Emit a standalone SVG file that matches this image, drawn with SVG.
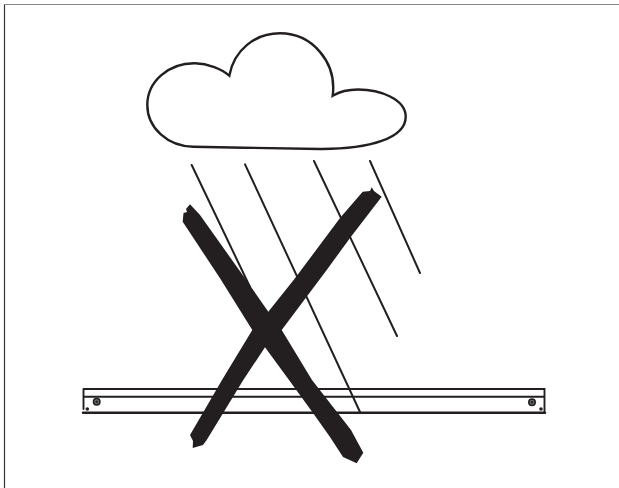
<svg xmlns="http://www.w3.org/2000/svg" width="619" height="488" viewBox="0 0 619 488">
<style>
.l{fill:none;stroke:#231f20;stroke-linecap:round}
.b{fill:#231f20;stroke:none}
</style>
<rect width="619" height="488" fill="#fff"/>
<g id="frame"><path d="M4.5 488V4.5" fill="none" stroke="#333" stroke-width="1.2"/><path d="M4 4.5H619" fill="none" stroke="#888" stroke-width="1"/></g>
<g id="cloud"><path class="l" stroke-width="2.4" d="M229.3 75.7C222 69 208 63.5 195 63.3C168 63 147.3 82 147.3 105C147.3 128 168 146.5 193.3 146.7C235 147.5 280 148.5 320 149C370 149.3 405.7 138 405.7 116.7C405.7 99 380 89.5 358 89.5C348 89.5 339 92 332.7 95.7C337 62 312 33.3 280 33.3C255 33.3 234 50 229.3 75.7Z"/></g>
<g id="rain">
<path class="l" stroke-width="2" d="M191.7 165L250 287"/>
<path class="l" stroke-width="2" d="M245 164.3L360 412"/>
<path class="l" stroke-width="2" d="M314 161L397 336"/>
<path class="l" stroke-width="2" d="M370 161L420 273"/>
</g>
<g id="rail">
<path class="l" stroke-width="1.9" stroke-linecap="butt" d="M83.5 389H544.5V412M83.5 409V389M83.5 396.7H544.5"/>
<path class="l" stroke-width="2.4" stroke-linecap="butt" d="M83 412.7H545"/>
<circle cx="96.7" cy="401.7" r="3.2" fill="#777" stroke="#231f20" stroke-width="1.6"/><circle cx="96.7" cy="401.7" r="1.3" class="b"/>
<circle cx="532" cy="402.3" r="3.2" fill="#777" stroke="#231f20" stroke-width="1.6"/><circle cx="532" cy="402.3" r="1.3" class="b"/>
<circle cx="87.3" cy="409" r="1.8" class="b"/><circle cx="541" cy="409" r="1.8" class="b"/>
</g>
<g id="cross">
<path class="b" d="M190 204.3L186 209L187 212L183.5 213L182.7 221.7L220 278.3L252.3 330L265 347.3L289 380L313 413L330 437L343 457L356.7 463.3L363.3 452.7L351 430L312 380L281.7 330L268.3 311.7L245 278.3L200 215Z"/>
<path class="b" d="M371.7 187.3L370 191L362.7 191.7L340 218L295 278.3L268.3 311.7L252.3 330L222 380L190 435L193 441L192.7 448L203 445L206.7 440L243.3 380L265 347.3L281.7 330L326.7 270L350 238L381.7 196.7L374 191Z"/>
</g>
</svg>
